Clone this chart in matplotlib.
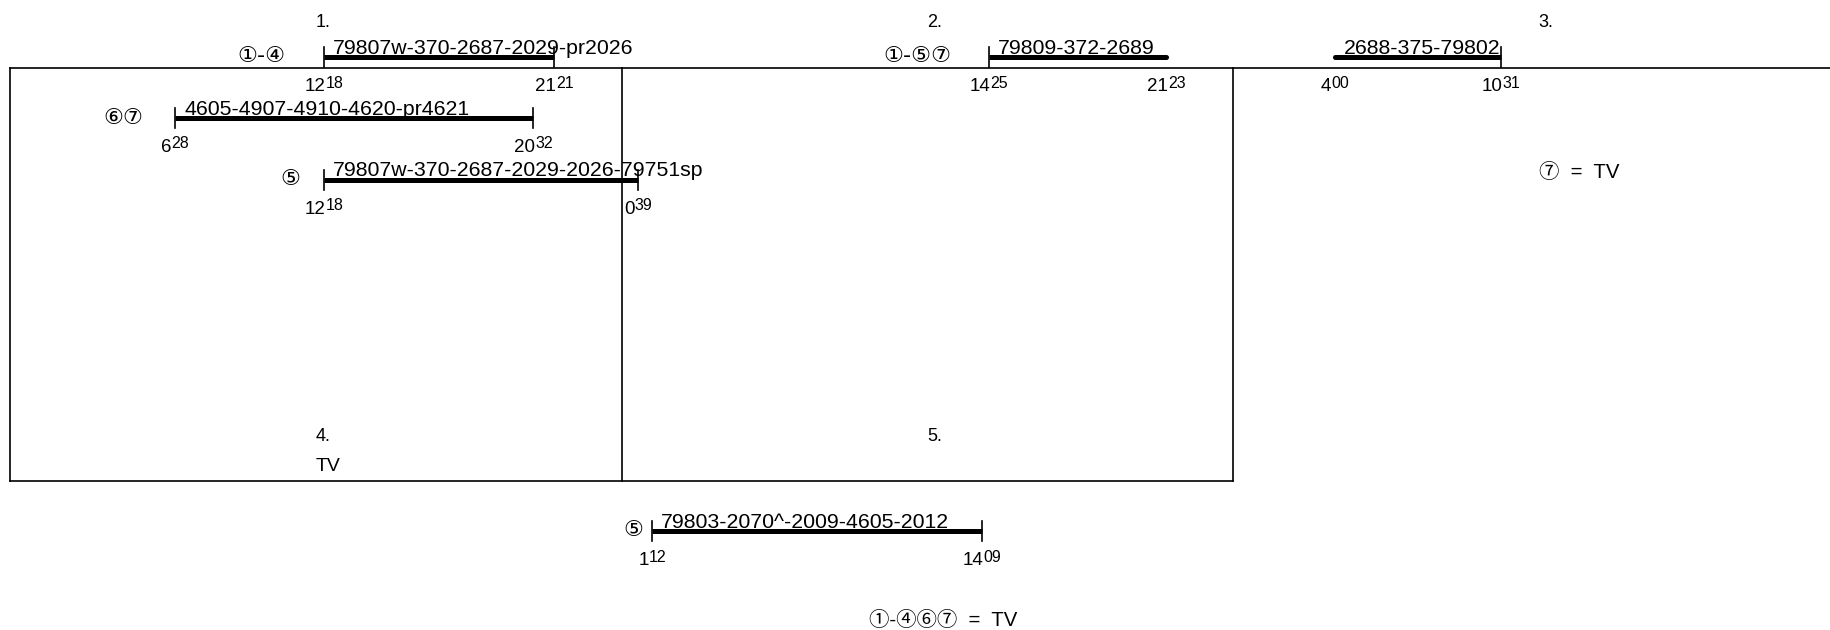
import matplotlib
matplotlib.use("Agg")
import matplotlib.pyplot as plt
from matplotlib.transforms import offset_copy

plt.rcParams['font.family'] = ['Liberation Sans', 'Noto Sans CJK JP', 'DejaVu Sans']

# ---------------- data ----------------
day_labels = ["1.", "2.", "3.", "4.", "5."]
bar_day = [1, 1, 1, 2, 3, 5]
bar_variant = ["①-④", "⑥⑦", "⑤", "①-⑤⑦", "", "⑤"]
bar_train = ["79807w-370-2687-2029-pr2026",
             "4605-4907-4910-4620-pr4621",
             "79807w-370-2687-2029-2026-79751sp",
             "79809-372-2689",
             "2688-375-79802",
             "79803-2070^-2009-4605-2012"]
bar_start = ["12:18", "6:28", "12:18", "14:25", "4:00", "1:12"]
bar_end = ["21:21", "20:32", "0:39", "21:23", "10:31", "14:09"]
day4_note = "TV"
notes = ["⑦  =  TV", "①-④⑥⑦  =  TV"]

# ---------------- layout ----------------
W, H, DPI = 1831, 630, 100
PXH = 611.25 / 24.0          # pixels per hour
X0 = 10.5                    # pixel of hour 0, day 1
day_col = {1: 0, 2: 1, 3: 2, 4: 0, 5: 1}
day_label_y = {1: 27, 2: 27, 3: 27, 4: 441, 5: 441}
bar_y = [57, 118, 179.5, 57, 57, 531]
tick_start = [True, True, True, True, False, True]
tick_end = [True, True, True, False, True, True]
variant_gap = [38, 32, 23, 37, 0, 9]
line_top, line_bottom = 67.7, 481
note_pos = [(1539, 178), (869, 626)]

fig = plt.figure(figsize=(W / DPI, H / DPI), dpi=DPI)
ax = fig.add_axes([0, 0, 1, 1])
ax.set_xlim(-X0 / PXH, (W - X0) / PXH)
ax.set_ylim(H, 0)
ax.axis('off')


def px(p):
    return p / PXH


def hours(s):
    h, m = s.split(":")
    return int(h) + int(m) / 60.0


# grid lines
ax.plot([0, ax.get_xlim()[1]], [line_top, line_top], color='black', lw=1.2)
for c in (0, 24, 48):
    ax.plot([c, c], [line_top, line_bottom], color='black', lw=1.2)
ax.plot([0, 48], [line_bottom, line_bottom], color='black', lw=1.2)

# day labels
for d, lab in enumerate(day_labels, start=1):
    ax.text(day_col[d] * 24 + 12, day_label_y[d], lab, fontsize=13,
            ha='left', va='baseline')
ax.text(12, 471, day4_note, fontsize=14, ha='left', va='baseline')

for (x, y), n in zip(note_pos, notes):
    ax.text(px(x - X0), y, n, fontsize=14.7, ha='left', va='baseline')

renderer = fig.canvas.get_renderer()


def time_label(x, y, s):
    hh, mm = s.split(":")
    t1 = ax.text(x, y, hh, fontsize=13.5, ha='right', va='baseline')
    t2 = ax.text(x, y - 3.5, mm, fontsize=11.5, ha='left', va='baseline')
    w1 = t1.get_window_extent(renderer).width
    w2 = t2.get_window_extent(renderer).width
    dx = (w1 - w2) / 2.0
    t1.set_transform(offset_copy(ax.transData, fig=fig, x=dx, y=0, units='dots'))
    t2.set_transform(offset_copy(ax.transData, fig=fig, x=dx, y=0, units='dots'))


for i in range(len(bar_day)):
    col = day_col[bar_day[i]]
    s = hours(bar_start[i])
    e = hours(bar_end[i])
    if e < s:
        e += 24
    xs, xe = col * 24 + s, col * 24 + e
    y = bar_y[i]
    ax.plot([xs, xe], [y, y], color='black', lw=3.6, solid_capstyle='butt')
    if tick_start[i]:
        ax.plot([xs, xs], [y - 10, y + 10], color='black', lw=1.2)
    else:
        ax.plot([xs], [y], 'o', color='black', ms=3.6, mew=0)
    if tick_end[i]:
        ax.plot([xe, xe], [y - 10, y + 10], color='black', lw=1.2)
    else:
        ax.plot([xe], [y], 'o', color='black', ms=3.6, mew=0)
    ax.text(xs + px(9), y - 3, bar_train[i], fontsize=15.3, ha='left', va='baseline')
    if bar_variant[i]:
        ax.text(xs - px(variant_gap[i]), y + 5.5, bar_variant[i], fontsize=16,
                family=['DejaVu Sans'], ha='right', va='baseline')
    time_label(xs, y + 34, bar_start[i])
    time_label(xe, y + 34, bar_end[i])

fig.savefig("out.png", dpi=DPI, facecolor='white')
